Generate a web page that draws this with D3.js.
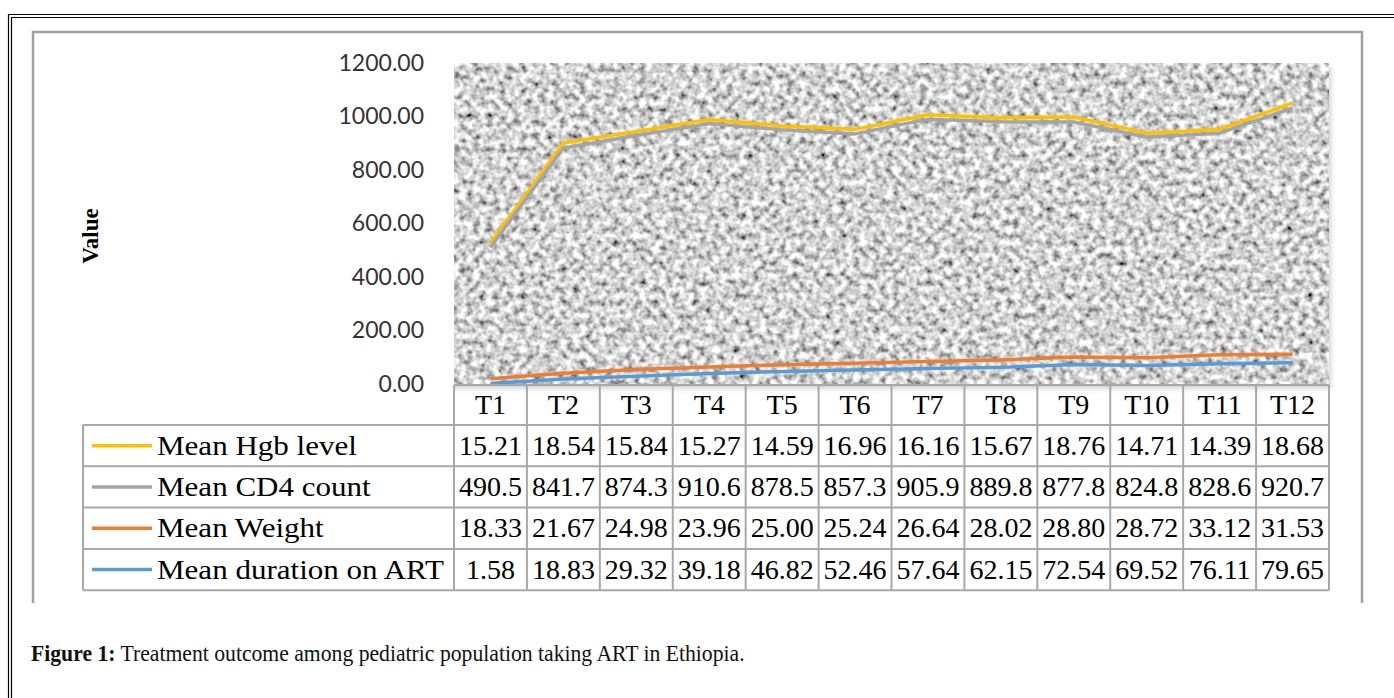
<!DOCTYPE html>
<html>
<head>
<meta charset="utf-8">
<script src="https://cdn.jsdelivr.net/npm/d3@7"></script>
<style>
  body { margin: 0; background: #fff; }
  svg { display: block; }
</style>
</head>
<body>
<div id="chart"></div>
<script>
// chart data
const categories = ["T1", "T2", "T3", "T4", "T5", "T6", "T7", "T8", "T9", "T10", "T11", "T12"];
const hgb = [15.21, 18.54, 15.84, 15.27, 14.59, 16.96, 16.16, 15.67, 18.76, 14.71, 14.39, 18.68];
const cd4 = [490.5, 841.7, 874.3, 910.6, 878.5, 857.3, 905.9, 889.8, 877.8, 824.8, 828.6, 920.7];
const weight = [18.33, 21.67, 24.98, 23.96, 25.00, 25.24, 26.64, 28.02, 28.80, 28.72, 33.12, 31.53];
const duration = [1.58, 18.83, 29.32, 39.18, 46.82, 52.46, 57.64, 62.15, 72.54, 69.52, 76.11, 79.65];
const seriesNames = ["Mean Hgb level", "Mean CD4 count", "Mean Weight", "Mean duration on ART"];
const yTicks = [0, 200, 400, 600, 800, 1000, 1200];

const W = 1394, H = 698;
const colors = ["#FFC000", "#A5A5A5", "#ED7D31", "#5B9BD5"];
const series = [hgb, cd4, weight, duration];
const decimals = [2, 1, 2, 2];

const plot = { left: 454, right: 1329, top: 63, bottom: 384 };
const tableLeft = 83;
const headerTop = 385, headerH = 40, rowH = 41.3;

const svg = d3.select("#chart").append("svg")
  .attr("width", W)
  .attr("height", H);

const defs = svg.append("defs");

// granite texture for the plot area
const filt = defs.append("filter")
  .attr("id", "granite")
  .attr("filterUnits", "userSpaceOnUse")
  .attr("x", plot.left).attr("y", plot.top)
  .attr("width", plot.right - plot.left).attr("height", plot.bottom - plot.top);
filt.append("feTurbulence")
  .attr("type", "fractalNoise")
  .attr("baseFrequency", 0.15)
  .attr("numOctaves", 2)
  .attr("seed", 7)
  .attr("result", "noise");
filt.append("feColorMatrix")
  .attr("type", "matrix")
  .attr("values", "1 0 0 0 0  1 0 0 0 0  1 0 0 0 0  0 0 0 0 1")
  .attr("result", "grey");
const ct = filt.append("feComponentTransfer").attr("result", "grain");
["feFuncR", "feFuncG", "feFuncB"].forEach(f => {
  ct.append(f).attr("type", "linear").attr("slope", 1.7).attr("intercept", -0.2);
});
filt.append("feGaussianBlur").attr("in", "grain").attr("stdDeviation", 0.5);

const shadeDown = defs.append("linearGradient")
  .attr("id", "shadeDown").attr("x1", 0).attr("y1", 0).attr("x2", 0).attr("y2", 1);
shadeDown.append("stop").attr("offset", "0%").attr("stop-color", "#c8c8c8");
shadeDown.append("stop").attr("offset", "100%").attr("stop-color", "#ffffff").attr("stop-opacity", 0);

const shadeRight = defs.append("linearGradient")
  .attr("id", "shadeRight").attr("x1", 0).attr("y1", 0).attr("x2", 1).attr("y2", 0);
shadeRight.append("stop").attr("offset", "0%").attr("stop-color", "#d8d8d8");
shadeRight.append("stop").attr("offset", "100%").attr("stop-color", "#ffffff").attr("stop-opacity", 0);

// outer double frame
svg.append("path")
  .attr("d", `M8.5,${H} V14.5 H${W}`)
  .attr("fill", "none").attr("stroke", "#000").attr("stroke-width", 1.2);
svg.append("path")
  .attr("d", `M11.5,${H} V17.5 H${W}`)
  .attr("fill", "none").attr("stroke", "#000").attr("stroke-width", 1.2);

// chart box (bottom is cut off)
svg.append("path")
  .attr("d", "M33,603 V32 H1362 V603")
  .attr("fill", "none").attr("stroke", "#a0a0a0").attr("stroke-width", 2.5);

// plot area
svg.append("rect")
  .attr("x", plot.right).attr("y", plot.top + 4)
  .attr("width", 8).attr("height", plot.bottom - plot.top)
  .attr("fill", "url(#shadeRight)");
svg.append("rect")
  .attr("x", plot.left).attr("y", plot.top)
  .attr("width", plot.right - plot.left).attr("height", plot.bottom - plot.top)
  .attr("fill", "#999")
  .attr("filter", "url(#granite)");

const x = d3.scaleBand()
  .domain(categories)
  .range([plot.left, plot.right]);

const y = d3.scaleLinear()
  .domain([0, 1200])
  .range([plot.bottom, plot.top]);

// y axis labels
const yAxis = d3.axisLeft(y)
  .tickValues(yTicks)
  .tickFormat(d3.format(".2f"))
  .tickSize(0)
  .tickPadding(30);
const gy = svg.append("g")
  .attr("transform", `translate(${plot.left},0)`)
  .call(yAxis);
gy.select(".domain").remove();
gy.selectAll("text")
  .attr("font-family", "Lato, 'Open Sans', sans-serif")
  .attr("font-size", 23)
  .attr("fill", "#333");

svg.append("text")
  .attr("transform", "translate(98,236) rotate(-90)")
  .attr("text-anchor", "middle")
  .attr("font-family", "'Liberation Serif', 'Times New Roman', serif")
  .attr("font-weight", "bold")
  .attr("font-size", 23)
  .text("Value");

// stacked lines (Excel stacked line: last series at the bottom)
const rows = categories.map((c, i) => {
  const r = { cat: c };
  seriesNames.forEach((n, k) => { r[n] = series[k][i]; });
  return r;
});
const stack = d3.stack().keys(seriesNames.slice().reverse());
const stacked = stack(rows);

const line = d3.line()
  .x(d => x(d.data.cat) + x.bandwidth() / 2)
  .y(d => y(d[1]));

svg.append("g")
  .selectAll("path")
  .data(stacked.slice().reverse())
  .join("path")
  .attr("d", line)
  .attr("fill", "none")
  .attr("stroke", d => colors[seriesNames.indexOf(d.key)])
  .attr("stroke-width", 3.5)
  .attr("stroke-linejoin", "round");

// data table
const table = svg.append("g");
const rowsTop = headerTop + headerH;
const tableBottom = rowsTop + rowH * 4;

table.append("rect")
  .attr("x", plot.left).attr("y", headerTop)
  .attr("width", plot.right - plot.left).attr("height", 10)
  .attr("fill", "url(#shadeDown)");

const gridColor = "#a8a8a8";
// horizontal lines
table.append("line")
  .attr("x1", plot.left).attr("x2", plot.right)
  .attr("y1", headerTop).attr("y2", headerTop)
  .attr("stroke", gridColor).attr("stroke-width", 2);
d3.range(5).forEach(k => {
  table.append("line")
    .attr("x1", tableLeft).attr("x2", plot.right)
    .attr("y1", rowsTop + k * rowH).attr("y2", rowsTop + k * rowH)
    .attr("stroke", gridColor).attr("stroke-width", 2);
});
// vertical lines
table.append("line")
  .attr("x1", tableLeft).attr("x2", tableLeft)
  .attr("y1", rowsTop).attr("y2", tableBottom)
  .attr("stroke", gridColor).attr("stroke-width", 2);
categories.concat(["end"]).forEach((c, i) => {
  const xx = i < categories.length ? x(c) : plot.right;
  table.append("line")
    .attr("x1", xx).attr("x2", xx)
    .attr("y1", headerTop).attr("y2", tableBottom)
    .attr("stroke", gridColor).attr("stroke-width", 2);
});

const serif = "'Liberation Serif', 'Times New Roman', serif";

table.selectAll(".cat")
  .data(categories)
  .join("text")
  .attr("class", "cat")
  .attr("x", d => x(d) + x.bandwidth() / 2)
  .attr("y", headerTop + headerH / 2 + 9)
  .attr("text-anchor", "middle")
  .attr("font-family", serif)
  .attr("font-size", 28)
  .text(d => d);

const legendTexts = [];
seriesNames.forEach((name, k) => {
  const cy = rowsTop + k * rowH + rowH / 2;
  table.append("line")
    .attr("x1", 92).attr("x2", 152)
    .attr("y1", cy).attr("y2", cy)
    .attr("stroke", colors[k]).attr("stroke-width", 3.5);
  legendTexts.push(table.append("text")
    .attr("font-family", serif)
    .attr("font-size", 28)
    .attr("data-y", cy + 9)
    .text(name));
  table.selectAll(".v" + k)
    .data(series[k])
    .join("text")
    .attr("x", (d, i) => x(categories[i]) + x.bandwidth() / 2)
    .attr("y", cy + 9)
    .attr("text-anchor", "middle")
    .attr("font-family", serif)
    .attr("font-size", 28)
    .text(d => d.toFixed(decimals[k]));
});
// legend text is slightly wider in the figure: stretch all by the same factor
const longest = d3.max(legendTexts, t => t.node().getComputedTextLength());
const sx = 287 / longest;
legendTexts.forEach(t => {
  t.attr("transform", `translate(157,${t.attr("data-y")}) scale(${sx},1)`);
});

// caption
const cap = svg.append("text")
  .attr("font-family", "'Liberation Serif', Georgia, serif")
  .attr("font-size", 24)
  .attr("fill", "#111");
cap.append("tspan").attr("font-weight", "bold").text("Figure 1:");
cap.append("tspan").text(" Treatment outcome among pediatric population taking ART in Ethiopia.");
const capW = cap.node().getComputedTextLength();
cap.attr("transform", `translate(31,661) scale(${714 / capW},1)`);
</script>
</body>
</html>
